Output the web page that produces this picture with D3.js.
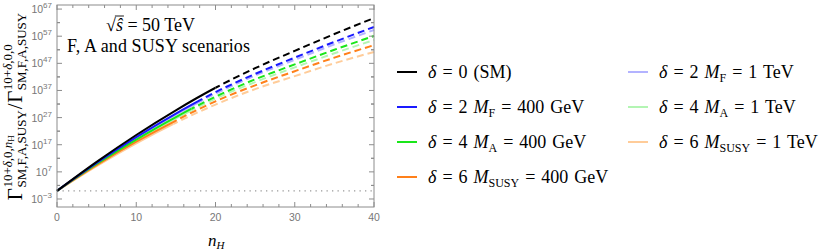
<!DOCTYPE html>
<html>
<head>
<meta charset="utf-8">
<script src="https://cdn.jsdelivr.net/npm/d3@7"></script>
<style>
  body { margin: 0; background: #fff; }
  svg { display: block; }
  .tick-label { font-family: "Liberation Sans", Arial, sans-serif; font-size: 10.5px; fill: #777; }
</style>
</head>
<body>
<svg id="chart" width="830" height="252"></svg>
<script>
// n_H sample points and log10 of the ratio
var nH = [0, 5, 10, 15, 20, 25, 30, 35, 40];
var smVals    = [0, 10.7, 20.6, 29.7, 38.0, 45.2, 51.6, 57.8, 63.7];
var f400Vals  = [0, 10.3, 19.8, 28.5, 36.4, 43.1, 49.1, 54.9, 60.4];
var a400Vals  = [0, 9.9, 18.9, 27.2, 34.7, 41.1, 46.6, 52.0, 57.1];
var s400Vals  = [0, 9.5, 18.1, 25.9, 33.0, 38.9, 44.1, 49.1, 53.7];
var f1Vals    = [0, 10.2, 19.5, 28.1, 35.8, 42.5, 48.3, 54.0, 59.3];
var a1Vals    = [0, 9.7, 18.6, 26.7, 34.0, 40.1, 45.5, 50.7, 55.6];
var s1Vals    = [0, 9.1, 17.5, 25.1, 31.8, 37.5, 42.3, 47.0, 51.2];

// where each curve switches from solid to dashed
var solidEnd = [20, 18.3, 17, 15, 18.3, 17, 14.7];

var seriesVals = [smVals, f400Vals, a400Vals, s400Vals, f1Vals, a1Vals, s1Vals];
var colors = ["#000000", "#1a1aff", "#1ae61a", "#ff801a", "#b3b3ff", "#b3f5b3", "#ffcc99"];

var xTicks = [0, 10, 20, 30, 40];
var yTickExps = [-3, 7, 17, 27, 37, 47, 57, 67];

var SERIF = '"Liberation Serif", "Times New Roman", serif';

var svg = d3.select("#chart");
var x = d3.scaleLinear().domain([0, 40]).range([57, 374]);
var y = d3.scaleLog().domain([Math.pow(10, -5.95), Math.pow(10, 68.5)]).range([207, 5]);

var frameColor = "#8c8c8c";
var x0 = x.range()[0], x1 = x.range()[1], yb = y.range()[0], yt = y.range()[1];

var defs = svg.append("defs");

function mathText(sel) {
  return sel.append("text").attr("font-family", SERIF).attr("fill", "#000");
}

// dotted reference line at 1
svg.append("line")
  .attr("x1", x(0)).attr("x2", x(40))
  .attr("y1", y(1)).attr("y2", y(1))
  .attr("stroke", "#999").attr("stroke-width", 1.3)
  .attr("stroke-dasharray", "1.3,4.2");

var line = d3.line()
  .x(function(d){ return x(d[0]); })
  .y(function(d){ return y(Math.pow(10, d[1])); })
  .curve(d3.curveMonotoneX);

// draw back to front so SM is on top
for (var k = seriesVals.length - 1; k >= 0; k--) {
  var pts = nH.map(function(n, i){ return [n, seriesVals[k][i]]; });
  var xe = x(solidEnd[k]);
  defs.append("clipPath").attr("id", "solid" + k)
    .append("rect").attr("x", 0).attr("y", 0).attr("width", xe).attr("height", 252);
  defs.append("clipPath").attr("id", "dash" + k)
    .append("rect").attr("x", xe).attr("y", 0).attr("width", 830 - xe).attr("height", 252);
  svg.append("path")
    .attr("d", line(pts))
    .attr("fill", "none").attr("stroke", colors[k]).attr("stroke-width", 2)
    .attr("clip-path", "url(#solid" + k + ")");
  svg.append("path")
    .attr("d", line(pts))
    .attr("fill", "none").attr("stroke", colors[k]).attr("stroke-width", 2)
    .attr("stroke-dasharray", "7,4")
    .attr("clip-path", "url(#dash" + k + ")");
}

// frame
svg.append("rect")
  .attr("x", x0).attr("y", yt).attr("width", x1 - x0).attr("height", yb - yt)
  .attr("fill", "none").attr("stroke", frameColor).attr("stroke-width", 1);

// x ticks (major every 10, minor every 2) on bottom and top, pointing inward
d3.range(0, 41, 2).forEach(function(v){
  var len = (v % 10 === 0) ? 5 : 3;
  svg.append("line").attr("x1", x(v)).attr("x2", x(v)).attr("y1", yb).attr("y2", yb - len)
    .attr("stroke", frameColor);
  svg.append("line").attr("x1", x(v)).attr("x2", x(v)).attr("y1", yt).attr("y2", yt + len)
    .attr("stroke", frameColor);
});
svg.selectAll("text.xlab").data(xTicks).enter().append("text")
  .attr("class", "xlab tick-label")
  .attr("x", function(d){ return x(d); })
  .attr("y", 221)
  .attr("text-anchor", "middle")
  .text(function(d){ return d; });

// y ticks
yTickExps.forEach(function(e){
  var yy = y(Math.pow(10, e));
  svg.append("line").attr("x1", x0).attr("x2", x0 + 5).attr("y1", yy).attr("y2", yy).attr("stroke", frameColor);
  svg.append("line").attr("x1", x1).attr("x2", x1 - 5).attr("y1", yy).attr("y2", yy).attr("stroke", frameColor);
  [-5, 5].forEach(function(off){
    var ym = y(Math.pow(10, e + off));
    if (ym > yt + 1 && ym < yb - 1) {
      svg.append("line").attr("x1", x0).attr("x2", x0 + 3).attr("y1", ym).attr("y2", ym).attr("stroke", frameColor);
      svg.append("line").attr("x1", x1).attr("x2", x1 - 3).attr("y1", ym).attr("y2", ym).attr("stroke", frameColor);
    }
  });
  var t = svg.append("text").attr("class", "tick-label")
    .attr("x", 52).attr("y", yy + 4).attr("text-anchor", "end");
  t.append("tspan").text("10");
  t.append("tspan").attr("dy", -5).attr("font-size", "8px").text(e < 0 ? "\u2212" + (-e) : e);
});

// x axis title
var xt = mathText(svg).attr("x", 208).attr("y", 246).attr("font-size", "17px").attr("font-style", "italic");
xt.append("tspan").text("n");
xt.append("tspan").attr("dy", 3).attr("font-size", "11px").text("H");

// y axis title, built in a rotated group
var yg = svg.append("g");
var pos = 0;
function gammaBlock(supParts) {
  var g = mathText(yg).attr("x", pos).attr("y", 0).attr("font-size", "21px").text("\u0393");
  pos += g.node().getComputedTextLength() + 0.5;
  var start = pos;
  var sup = mathText(yg).attr("x", pos).attr("y", -10).attr("font-size", "13px");
  supParts.forEach(function(p){
    var ts = sup.append("tspan").text(p.t);
    if (p.i) ts.attr("font-style", "italic");
    if (p.sub) ts.attr("font-size", "9px").attr("dy", 2);
  });
  var supW = sup.node().getComputedTextLength();
  var sub = mathText(yg).attr("x", start).attr("y", 4).attr("font-size", "13px").text("SM,F,A,SUSY");
  var subW = sub.node().getComputedTextLength();
  pos = start + Math.max(supW, subW) + 1;
}
gammaBlock([{t: "10+"}, {t: "\u03b4", i: true}, {t: ",0,"}, {t: "n", i: true}, {t: "H", sub: true}]);
var sl = mathText(yg).attr("x", pos).attr("y", 0).attr("font-size", "21px").text("/");
pos += sl.node().getComputedTextLength() + 0.5;
gammaBlock([{t: "10+"}, {t: "\u03b4", i: true}, {t: ",0,0"}]);
yg.attr("transform", "translate(22," + (106 + pos / 2) + ") rotate(-90)");

// annotation
var anX = 106;
var an = mathText(svg).attr("x", anX).attr("y", 31).attr("font-size", "18px");
an.append("tspan").text("\u221a");
an.append("tspan").attr("font-style", "italic").text("\u015d");
an.append("tspan").text(" = 50 TeV");
var rootW = an.node().getSubStringLength(0, 1);
var sW = an.node().getSubStringLength(1, 1);
svg.append("line").attr("x1", anX + rootW - 1).attr("x2", anX + rootW + sW + 1).attr("y1", 16).attr("y2", 16)
  .attr("stroke", "#000").attr("stroke-width", 0.9);
mathText(svg).attr("x", 67).attr("y", 52).attr("font-size", "18px")
  .attr("textLength", 183)
  .text("F, A and SUSY scenarios");

// legend
var legendLabels = [
  [{t: "\u03b4", i: true}, {t: " = 0 (SM)"}],
  [{t: "\u03b4", i: true}, {t: " = 2 "}, {t: "M", i: true}, {t: "F", sub: true}, {t: " = 400 GeV", up: true}],
  [{t: "\u03b4", i: true}, {t: " = 4 "}, {t: "M", i: true}, {t: "A", sub: true}, {t: " = 400 GeV", up: true}],
  [{t: "\u03b4", i: true}, {t: " = 6 "}, {t: "M", i: true}, {t: "SUSY", sub: true}, {t: " = 400 GeV", up: true}],
  [{t: "\u03b4", i: true}, {t: " = 2 "}, {t: "M", i: true}, {t: "F", sub: true}, {t: " = 1 TeV", up: true}],
  [{t: "\u03b4", i: true}, {t: " = 4 "}, {t: "M", i: true}, {t: "A", sub: true}, {t: " = 1 TeV", up: true}],
  [{t: "\u03b4", i: true}, {t: " = 6 "}, {t: "M", i: true}, {t: "SUSY", sub: true}, {t: " = 1 TeV", up: true}]
];
var rowY = [72, 107, 142, 177];
legendLabels.forEach(function(parts, k){
  var col = k < 4 ? 0 : 1;
  var row = k < 4 ? k : k - 4;
  var lx = col === 0 ? 397 : 628;
  var ly = rowY[row];
  svg.append("line").attr("x1", lx).attr("x2", lx + 20).attr("y1", ly).attr("y2", ly)
    .attr("stroke", colors[k]).attr("stroke-width", 2);
  var t = mathText(svg).attr("x", lx + 31).attr("y", ly + 6).attr("font-size", "18px")
    .attr("word-spacing", "1.5px");
  parts.forEach(function(p){
    var ts = t.append("tspan").text(p.t);
    if (p.i) ts.attr("font-style", "italic");
    if (p.sub) ts.attr("font-size", "12px").attr("dy", 4);
    if (p.up) ts.attr("dy", -4);
  });
});
</script>
</body>
</html>
